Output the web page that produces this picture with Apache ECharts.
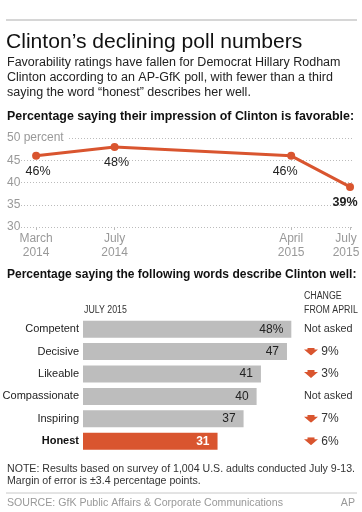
<!DOCTYPE html>
<html><head><meta charset="utf-8">
<script src="https://cdn.jsdelivr.net/npm/echarts@6/dist/echarts.min.js"></script>
<style>html,body{margin:0;padding:0;background:#fff}#c{width:362px;height:512px}</style>
</head><body><div id="c"></div>
<script>
// Line chart data (month index: Jan 2014 = 1)
const pollMonths = [3, 7, 16, 19];
const pollLabels = ['March\n2014', 'July\n2014', 'April\n2015', 'July\n2015'];
const favorable = [46, 48, 46, 39];
const yTicks = [30, 35, 40, 45, 50];

// Bar chart data
const words = ['Competent', 'Decisive', 'Likeable', 'Compassionate', 'Inspiring', 'Honest'];
const july2015 = [48, 47, 41, 40, 37, 31];
const changeFromApril = [null, -9, -3, null, -7, -6];

const ORANGE = '#d9552f';
const GRAY = '#bdbdbd';
const FONT = '"Liberation Sans", Arial, sans-serif';

const chart = echarts.init(document.getElementById('c'), null, {renderer: 'canvas'});

const arrowImg = 'data:image/svg+xml;utf8,' + encodeURIComponent(
  '<svg xmlns="http://www.w3.org/2000/svg" width="14" height="8" viewBox="0 0 14 8"><polygon points="3.5,0 10.5,0 10.5,2 14,2 7,8 0,2 3.5,2" fill="' + ORANGE + '"/></svg>');

function txt(x, y, text, style, extra) {
  return Object.assign({type: 'text', x: x, y: y, style: Object.assign({text: text, font: '13px ' + FONT, fill: '#222', textVerticalAlign: 'middle'}, style || {})}, extra || {});
}

const lastIdx = pollMonths.length - 1;
// small label nudges (styling only)
const labelOffsets = [[2, 0], [2, 0], [-6, 0], [-5, 0]];

const option = {
  animation: false,
  textStyle: {fontFamily: FONT},
  graphic: [
    {type: 'line', shape: {x1: 6, y1: 20, x2: 357, y2: 20}, style: {stroke: '#c8c8c8', lineWidth: 1.5}},
    txt(6, 42, 'Clinton’s declining poll numbers', {font: '21.1px ' + FONT, fill: '#111'}),
    txt(7, 63, 'Favorability ratings have fallen for Democrat Hillary Rodham', {font: '12.5px ' + FONT}),
    txt(7, 78, 'Clinton according to an AP-GfK poll, with fewer than a third', {font: '12.5px ' + FONT}),
    txt(7, 93, 'saying the word “honest” describes her well.', {font: '12.5px ' + FONT}),
    txt(7, 117, 'Percentage saying their impression of Clinton is favorable:', {font: 'bold 12.4px ' + FONT, fill: '#111'}),
    txt(7, 275, 'Percentage saying the following words describe Clinton well:', {font: 'bold 12px ' + FONT, fill: '#111'}),
    txt(84, 310, 'JULY 2015', {font: '10px ' + FONT, fill: '#333'}, {scaleX: 0.88}),
    txt(304, 296, 'CHANGE', {font: '10px ' + FONT, fill: '#333'}, {scaleX: 0.88}),
    txt(304, 310, 'FROM APRIL', {font: '10px ' + FONT, fill: '#333'}, {scaleX: 0.88}),
    txt(7, 469, 'NOTE: Results based on survey of 1,004 U.S. adults conducted July 9-13.', {font: '10.6px ' + FONT, fill: '#333'}),
    txt(7, 481, 'Margin of error is ±3.4 percentage points.', {font: '10.6px ' + FONT, fill: '#333'}),
    {type: 'line', shape: {x1: 6, y1: 493, x2: 357, y2: 493}, style: {stroke: '#c8c8c8', lineWidth: 1}},
    txt(7, 503, 'SOURCE: GfK Public Affairs & Corporate Communications', {font: '10.6px ' + FONT, fill: '#999'}),
    txt(355, 503, 'AP', {font: '10.6px ' + FONT, fill: '#999', textAlign: 'right'})
  ],
  grid: [
    {left: 21, right: 10, top: 138, height: 89, outerBoundsMode: 'none', containLabel: false},
    {left: 83, right: 62, top: 318, height: 134.4, outerBoundsMode: 'none', containLabel: false}
  ],
  xAxis: [
    {
      gridIndex: 0, type: 'value', min: 2.23, max: 19.1,
      splitLine: {show: false}, axisLine: {show: false},
      axisTick: {show: true, customValues: pollMonths, length: 3, lineStyle: {color: '#bbb'}},
      axisLabel: {
        customValues: pollMonths, color: '#999', fontSize: 12, lineHeight: 14, margin: 5,
        formatter: v => {
          const i = pollMonths.indexOf(v);
          if (i < 0) return '';
          if (i === lastIdx) return pollLabels[i].split('\n').map(s => '{r|' + s + '}').join('\n');
          return pollLabels[i];
        },
        rich: {r: {color: '#999', fontSize: 12, lineHeight: 14, padding: [0, 8, 0, 0]}}
      }
    },
    {gridIndex: 1, type: 'value', min: 0, max: 50, show: false}
  ],
  yAxis: [
    {
      gridIndex: 0, type: 'value', min: 30, max: 50, interval: 5,
      axisLine: {show: false}, axisTick: {show: false},
      splitLine: {lineStyle: {color: '#bbb', type: [1, 2], width: 1}},
      axisLabel: {
        align: 'left', margin: 14, color: '#999', fontSize: 12,
        formatter: v => yTicks.indexOf(v) === yTicks.length - 1 ? '{a|' + v + ' percent}' : String(v),
        rich: {a: {color: '#999', fontSize: 12, backgroundColor: '#fff', padding: [0, 4, 0, 0]}}
      },
      z: 5
    },
    {
      gridIndex: 1, type: 'category', data: words, inverse: true,
      axisLine: {show: false}, axisTick: {show: false},
      axisLabel: {
        margin: 4, color: '#222', fontSize: 11,
        formatter: v => v === 'Honest' ? '{b|' + v + '}' : v,
        rich: {b: {fontWeight: 'bold', fontSize: 11, color: '#111'}}
      }
    },
    {
      gridIndex: 1, type: 'category', data: words, inverse: true, position: 'right',
      axisLine: {show: false}, axisTick: {show: false},
      axisLabel: {
        margin: 4, align: 'left', color: '#333', fontSize: 12,
        formatter: v => {
          const c = changeFromApril[words.indexOf(v)];
          return c === null ? '{n|Not asked}' : '{arr|}{p| ' + Math.abs(c) + '%}';
        },
        rich: {
          n: {fontSize: 10.8, color: '#333'},
          arr: {width: 14, height: 8, backgroundColor: {image: arrowImg}},
          p: {fontSize: 12, color: '#333'}
        }
      }
    }
  ],
  series: [
    {
      type: 'line', xAxisIndex: 0, yAxisIndex: 0,
      data: pollMonths.map((m, i) => ({
        value: [m, favorable[i]],
        label: i === lastIdx ? {fontWeight: 'bold', offset: labelOffsets[i]} : {offset: labelOffsets[i]}
      })),
      color: ORANGE, lineStyle: {width: 3, color: ORANGE},
      symbol: 'circle', symbolSize: 8, itemStyle: {color: ORANGE},
      label: {
        show: true, position: 'bottom', distance: 5, color: '#222', fontSize: 12.5,
        formatter: p => favorable[p.dataIndex] + '%'
      },
      z: 10
    },
    {
      type: 'bar', xAxisIndex: 1, yAxisIndex: 1, barWidth: 17,
      data: july2015.map((v, i) => ({
        value: v,
        itemStyle: {color: words[i] === 'Honest' ? ORANGE : GRAY},
        label: words[i] === 'Honest' ? {color: '#fff', fontWeight: 'bold'} : {}
      })),
      label: {
        show: true, position: 'insideRight', distance: 8, color: '#222', fontSize: 12,
        formatter: p => p.dataIndex === 0 ? p.value + '%' : String(p.value)
      }
    }
  ]
};
chart.setOption(option);
</script>
</body></html>
